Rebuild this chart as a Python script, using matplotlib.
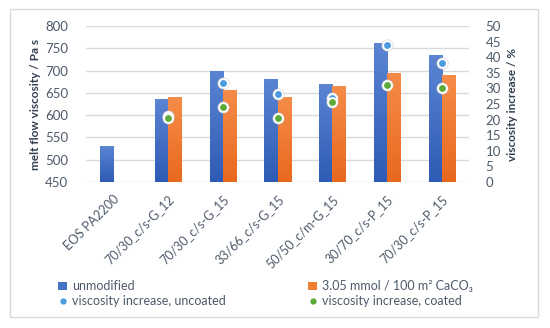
from matplotlib import pyplot as plt
from matplotlib.patches import Rectangle
from matplotlib.lines import Line2D
from matplotlib.patches import Patch
from matplotlib.colors import LinearSegmentedColormap
import numpy as np

# data
samples = ["EOS PA2200", "70/30_c/s-G_12", "70/30_c/s-G_15", "33/66_c/s-G_15",
           "50/50_c/m-G_15", "30/70_c/s-P_15", "70/30_c/s-P_15"]
unmodified = [530, 636, 700, 680, 670, 762, 734]
coated_caco3 = [np.nan, 640, 657, 640, 665, 695, 689]
increase_uncoated = [np.nan, 21.0, 31.8, 28.3, 26.8, 43.8, 38.2]
increase_coated = [np.nan, 20.6, 24.0, 20.6, 25.5, 31.0, 30.0]

BLUE = "#4472C4"
ORANGE = "#F07F34"
DOT_BLUE = "#4A9BE0"
DOT_GREEN = "#5BAA3A"
TXT = "#4D5A6B"
LBL = "#333F50"
GRID = "#D9D9D9"

plt.rcParams['font.family'] = ['Lato', 'DejaVu Sans']


def gradient_bars(ax, xs, heights, width, top, bottom, ymin):
    '''Bars with a vertical gradient (lighter on top), like Excel's.'''
    cmap = LinearSegmentedColormap.from_list("g", [bottom, top])
    grad = np.linspace(0, 1, 64).reshape(-1, 1)
    bars = ax.bar(xs, heights, width, color=top, zorder=2)
    for b, h in zip(bars, heights):
        if np.isnan(h):
            continue
        x0 = b.get_x()
        im = ax.imshow(grad, cmap=cmap, origin='lower', aspect='auto',
                       extent=(x0, x0 + width, ymin, h), zorder=2.1)
        im.set_clip_path(b)


fig = plt.figure(figsize=(5.5, 3.28), dpi=100)
fig.patches.append(Rectangle((10 / 550, 1 - 317 / 328), 528 / 550, 308 / 328,
                             transform=fig.transFigure, fill=False,
                             edgecolor=GRID, linewidth=1.0))

ax = fig.add_axes([86 / 550, 1 - 182 / 328, 383 / 550, 156 / 328])
ax2 = ax.twinx()

x = np.arange(len(samples))
w = 0.24
gradient_bars(ax, x - w / 2, unmodified, w, "#5B84D2", "#2E5BB5", 450)
gradient_bars(ax, x + w / 2, coated_caco3, w, "#F58C48", "#E8691E", 450)

ax.set_ylim(450, 800)
ax.set_yticks(np.arange(450, 801, 50))
ax.set_xlim(-0.5, len(samples) - 0.5)
ax.grid(axis='y', color=GRID, linewidth=1.0, zorder=0)
ax.set_axisbelow(True)
ax.set_xticks(x)
ax.set_xticklabels(samples, rotation=45, ha='right', rotation_mode='anchor')
ax.tick_params(axis='x', length=0, pad=8, labelsize=9, labelcolor=TXT)
ax.tick_params(axis='y', length=0, pad=13, labelsize=9.5, labelcolor=TXT)
ax.set_ylabel("melt flow viscosity / Pa s", fontsize=8.5, fontweight='bold',
              color=LBL, labelpad=3)

# dots with a soft grey halo
for vals, col in [(increase_uncoated, DOT_BLUE), (increase_coated, DOT_GREEN)]:
    ax2.scatter(x, vals, s=78, color="#C8C8C8", alpha=0.7, zorder=3, linewidths=0)
    ax2.scatter(x, vals, s=40, color=col, edgecolors='white', linewidths=1.4, zorder=4)

ax2.set_ylim(0, 50)
ax2.set_yticks(np.arange(0, 51, 5))
ax2.tick_params(axis='y', length=0, pad=12, labelsize=9.5, labelcolor=TXT)
ax2.set_ylabel("viscosity increase / %", fontsize=8.5, fontweight='bold',
               color=LBL, labelpad=4)

for a in (ax, ax2):
    for s in a.spines.values():
        s.set_visible(False)

handles = [
    Patch(facecolor=BLUE, label="unmodified"),
    Line2D([], [], marker='o', linestyle='none', markersize=3.5,
           color=DOT_BLUE, label="viscosity increase, uncoated"),
    Patch(facecolor=ORANGE, label="3.05 mmol / 100 m² CaCO₃"),
    Line2D([], [], marker='o', linestyle='none', markersize=3.5,
           color=DOT_GREEN, label="viscosity increase, coated"),
]
fig.legend(handles=handles, ncol=2, loc='upper left',
           bbox_to_anchor=(52 / 550, 1 - 274 / 328), frameon=False,
           fontsize=9, labelcolor=TXT, handlelength=0.7, handleheight=0.7,
           handletextpad=0.4, columnspacing=6.6, labelspacing=0.25,
           borderpad=0)

fig.savefig("out.png", dpi=100)
